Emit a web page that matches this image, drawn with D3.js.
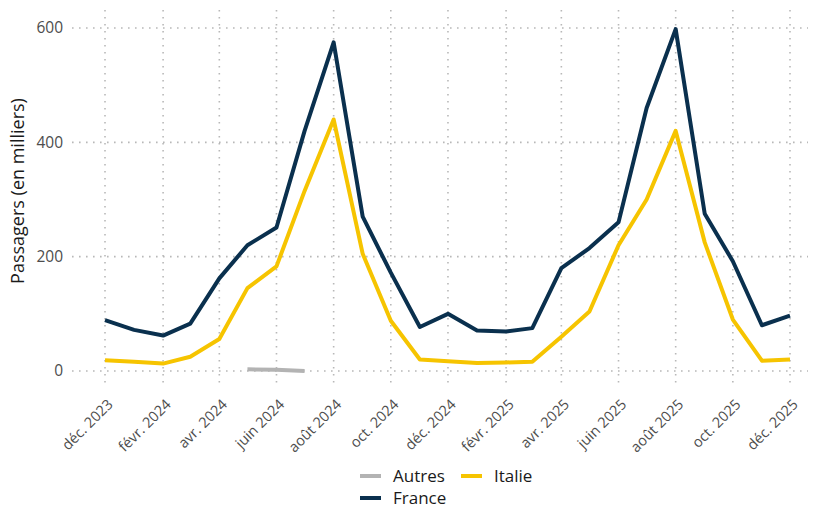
<!DOCTYPE html>
<html>
<head>
<meta charset="utf-8">
<script src="https://cdn.jsdelivr.net/npm/d3@7"></script>
<style>
  body { margin: 0; background: #fff; }
  svg { display: block; }
</style>
</head>
<body>
<div id="chart-area"></div>
<script>
// Data (milliers de passagers), mensuel de déc. 2023 à déc. 2025
var startMonth = new Date(2023, 11, 1);
var franceValues = [89, 72, 62, 83, 162, 220, 251, 420, 575, 270, 172, 77,
                    100, 71, 69, 75, 180, 215, 260, 460, 598, 275, 192, 80, 97];
var italieValues = [19, 16, 13, 25, 56, 145, 183, 315, 440, 205, 88, 20,
                    17, 14, 15, 16, 60, 104, 220, 300, 420, 225, 90, 18, 20];
var autresStart = new Date(2024, 4, 1);
var autresValues = [3, 2, 0];

var tickLabels = ["déc. 2023", "févr. 2024", "avr. 2024", "juin 2024", "août 2024", "oct. 2024",
                  "déc. 2024", "févr. 2025", "avr. 2025", "juin 2025", "août 2025", "oct. 2025", "déc. 2025"];
var yTicks = [0, 200, 400, 600];

var legendItems = ["Autres", "Italie", "France"];
var colors = { "Autres": "#b3b3b3", "Italie": "#f6c400", "France": "#0a304e" };

//Svg
var width = 819, height = 510;
var svg = d3.select("#chart-area").append("svg")
    .attr("width", width)
    .attr("height", height);

var panel = { left: 72, right: 808, top: 10, bottom: 388 };

function toSeries(start, values) {
    return values.map(function(v, i) {
        return { date: d3.timeMonth.offset(start, i), value: v };
    });
}
var france = toSeries(startMonth, franceValues);
var italie = toSeries(startMonth, italieValues);
var autres = toSeries(autresStart, autresValues);

//Scales
var x = d3.scaleTime()
    .domain([startMonth, d3.timeMonth.offset(startMonth, franceValues.length - 1)])
    .range([105, 790]);
var y = d3.scaleLinear()
    .domain([0, 600])
    .range([371, 28]);

var tickDates = tickLabels.map(function(d, i) { return d3.timeMonth.offset(startMonth, i * 2); });

//Grid
var grid = svg.append("g").attr("class", "grid")
    .attr("stroke", "#b8b8b8")
    .attr("stroke-width", 1.6)
    .attr("stroke-dasharray", "1.6,5.4")
    .attr("stroke-linecap", "butt");

grid.selectAll(".hgrid").data(yTicks).enter().append("line")
    .attr("x1", panel.left).attr("x2", panel.right)
    .attr("y1", function(d) { return y(d); })
    .attr("y2", function(d) { return y(d); });

grid.selectAll(".vgrid").data(tickDates).enter().append("line")
    .attr("x1", function(d) { return x(d); })
    .attr("x2", function(d) { return x(d); })
    .attr("y1", panel.top).attr("y2", panel.bottom);

//Axes (text only)
var yAxis = svg.append("g")
    .attr("transform", "translate(" + (panel.left - 9) + ",0)")
    .call(d3.axisLeft(y).tickValues(yTicks).tickSize(0).tickPadding(0));
yAxis.select(".domain").remove();
yAxis.selectAll("text")
    .attr("font-family", "Open Sans")
    .attr("font-size", 15.5)
    .attr("fill", "#4d4d4d");

var xAxis = svg.append("g")
    .attr("transform", "translate(0," + (panel.bottom + 6) + ")")
    .call(d3.axisBottom(x).tickValues(tickDates).tickSize(0)
        .tickFormat(function(d, i) { return tickLabels[i]; }));
xAxis.select(".domain").remove();
xAxis.selectAll("text")
    .attr("font-family", "Open Sans")
    .attr("font-size", 14.5)
    .attr("fill", "#4d4d4d")
    .attr("text-anchor", "end")
    .attr("x", 0).attr("y", 0)
    .attr("dy", "0.71em")
    .attr("transform", "translate(1,4) rotate(-45)");

//Y title
svg.append("text")
    .attr("transform", "translate(24,191) rotate(-90)")
    .attr("text-anchor", "middle")
    .attr("font-family", "Open Sans")
    .attr("font-size", 18)
    .attr("fill", "#1a1a1a")
    .text("Passagers (en milliers)");

//Lines
var line = d3.line()
    .x(function(d) { return x(d.date); })
    .y(function(d) { return y(d.value); });

[["Autres", autres], ["Italie", italie], ["France", france]].forEach(function(s) {
    svg.append("path")
        .attr("fill", "none")
        .attr("stroke", colors[s[0]])
        .attr("stroke-width", 4)
        .attr("stroke-linejoin", "round")
        .attr("d", line(s[1]));
});

//Legend
var legendPos = { "Autres": [360, 476], "Italie": [461, 476], "France": [360, 498] };
var legend = svg.append("g").attr("class", "legend");
legendItems.forEach(function(k) {
    var p = legendPos[k];
    legend.append("line")
        .attr("x1", p[0]).attr("x2", p[0] + 21)
        .attr("y1", p[1]).attr("y2", p[1])
        .attr("stroke", colors[k])
        .attr("stroke-width", 4);
    legend.append("text")
        .attr("x", p[0] + 33).attr("y", p[1])
        .attr("dy", "0.35em")
        .attr("font-family", "Open Sans")
        .attr("font-size", 17)
        .attr("fill", "#1a1a1a")
        .text(k);
});
</script>
</body>
</html>
